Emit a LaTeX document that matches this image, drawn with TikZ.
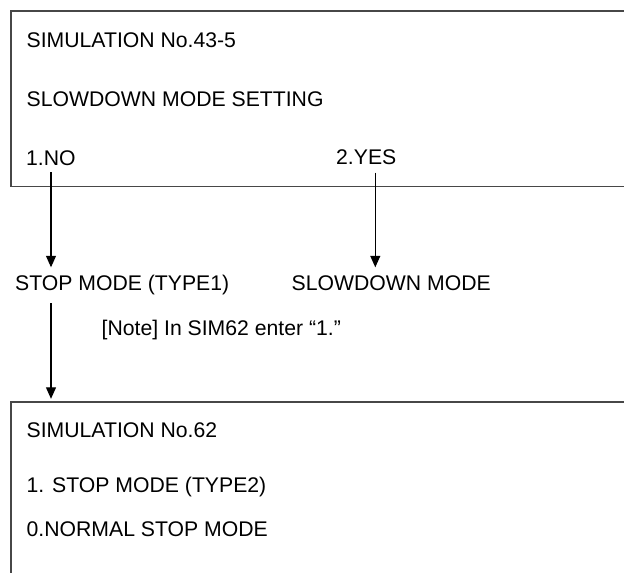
\documentclass[tikz,border=0pt]{standalone}
\usepackage{fontspec}
\setmainfont{Liberation Sans}
\usetikzlibrary{arrows.meta}
\begin{document}
\begin{tikzpicture}[x=1pt,y=-1pt,
  lbl/.style={anchor=base west,inner sep=0pt,font=\fontsize{21.2}{24}\selectfont},
  frame/.style={draw=black!72,line width=1.8pt},
  conn/.style={draw=black,line width=1.1pt,-{Triangle[width=10pt,length=11.5pt]}}]
\useasboundingbox (0,0) rectangle (624,573);
% frames (open to the right / bottom)
\draw[frame] (624,11) -- (10.7,11) -- (10.7,186.5) -- (624,186.5);
\draw[frame] (624,402) -- (10.7,402) -- (10.7,573);
% texts
\node[lbl] (sim43) at (26.5,47.3) {SIMULATION No.43-5};
\node[lbl] (setting) at (26.5,106) {SLOWDOWN MODE SETTING};
\node[lbl] (no) at (26,165) {1.NO};
\node[lbl] (yes) at (336,164.6) {2.YES};
\node[lbl] (stop1) at (15,290.3) {STOP MODE (TYPE1)};
\node[lbl] (slow) at (291.5,290.3) {SLOWDOWN MODE};
\node[lbl] (note) at (101.5,335) {[Note] In SIM62 enter “1.”};
\node[lbl] (sim62) at (26.5,437) {SIMULATION No.62};
\node[lbl] (stop2) at (26.5,492) {1. STOP MODE (TYPE2)};
\node[lbl] (normal) at (26.5,536) {0.NORMAL STOP MODE};
% connector end points
\coordinate (noS) at (51,172);
\coordinate (noE) at (51,267.3);
\coordinate (yesS) at (375.3,172.5);
\coordinate (yesE) at (375.3,267.3);
\coordinate (stS) at (51,303.3);
\coordinate (stE) at (51,398.8);
\draw[conn] (noS) -- (noE);
\draw[conn] (yesS) -- (yesE);
\draw[conn] (stS) -- (stE);
\end{tikzpicture}
\end{document}
